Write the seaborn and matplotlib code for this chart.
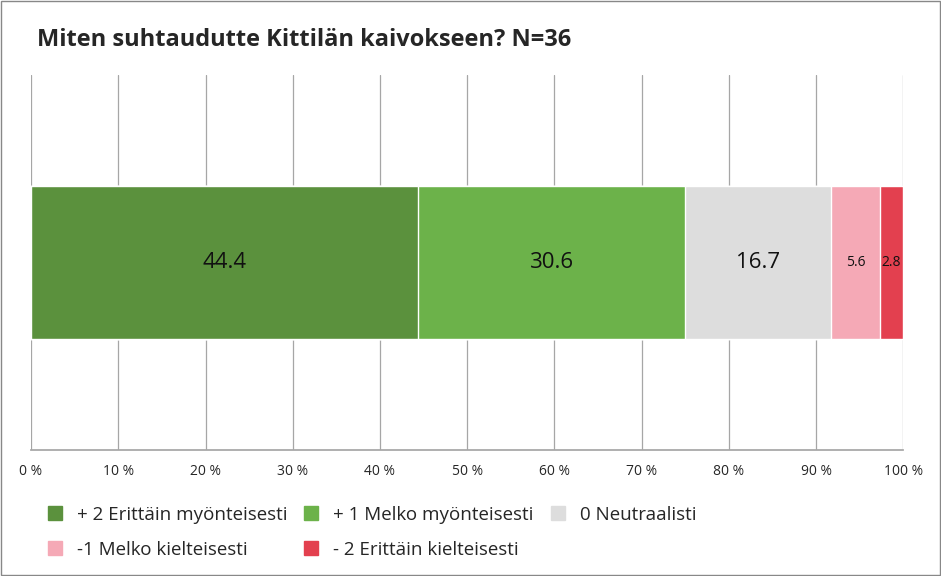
import matplotlib
matplotlib.use('Agg')
import matplotlib.pyplot as plt
import seaborn as sns
import pandas as pd
import numpy as np
from matplotlib.patches import Patch, Rectangle

categories = ['+ 2 Erittäin myönteisesti', '+ 1 Melko myönteisesti', '0 Neutraalisti',
              '-1 Melko kielteisesti', '- 2 Erittäin kielteisesti']
values = [44.4, 30.6, 16.7, 5.6, 2.8]
colors = ['#5b913d', '#6cb24a', '#dddddd', '#f5a9b6', '#e3404f']
tick_labels = ['0 %', '10 %', '20 %', '30 %', '40 %', '50 %', '60 %', '70 %', '80 %', '90 %', '100 %']

sns.set_theme(style='white', font='Open Sans')
fig = plt.figure(figsize=(9.41, 5.76), dpi=100)
ax = fig.add_axes([0.033, 0.219, 0.927, 0.651])

cum = np.minimum(np.cumsum(values), 100)
# draw cumulative bars from the longest to the shortest so they stack
for i in range(len(values) - 1, -1, -1):
    df = pd.DataFrame({'x': [cum[i]], 'y': ['a']})
    sns.barplot(data=df, x='x', y='y', orient='h', color=colors[i], width=0.816,
                saturation=1, ax=ax, zorder=3)

for i, v in enumerate(values):
    start = cum[i] - v
    fs = 16 if v > 10 else 10
    ax.text(start + v / 2, 0, f'{v:.1f}', ha='center', va='center', fontsize=fs,
            color='#111111', zorder=4)

ax.set_xlim(0, 100)
ax.set_ylim(1, -1)
ax.set_xticks(np.arange(0, 101, 10))
ax.set_xticklabels(tick_labels, fontsize=10)
ax.set_yticks([])
ax.set_xlabel('')
ax.set_ylabel('')
ax.grid(axis='x', color='#a6a6a6', linewidth=0.9, zorder=0)
for s in ['top', 'right', 'left']:
    ax.spines[s].set_visible(False)
ax.spines['bottom'].set_color('#a6a6a6')
ax.tick_params(axis='x', length=0, pad=10)

fig.text(0.039, 0.93, 'Miten suhtaudutte Kittilän kaivokseen? N=36', fontsize=17,
         fontweight='bold', va='center')

# legend is filled column by column, reorder so it reads row by row
handles = [Patch(color=c, label=l) for c, l in zip(colors, categories)]
order = [0, 3, 1, 4, 2]
fig.legend(handles=[handles[i] for i in order], ncol=3, loc='upper left',
           bbox_to_anchor=(0.043, 0.135), frameon=False, fontsize=13.5,
           handlelength=0.75, handleheight=0.75, columnspacing=0.9,
           handletextpad=0.8, labelspacing=0.9, borderaxespad=0)

fig.patches.append(Rectangle((0.001, 0.001), 0.998, 0.998, transform=fig.transFigure,
                             fill=False, edgecolor='#888888', linewidth=1))
fig.savefig('out.png', dpi=100)
